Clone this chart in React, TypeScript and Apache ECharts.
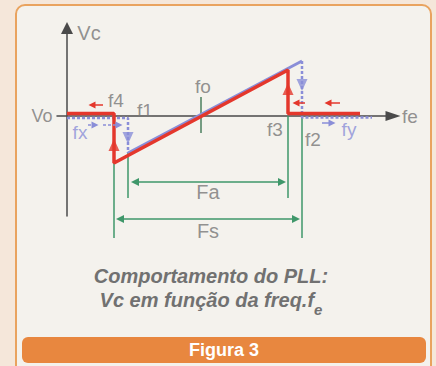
import { useEffect, useRef } from 'react';
import * as echarts from 'echarts';

const FONT = '"Liberation Sans", Arial, sans-serif';
const RED = '#e4372c';
const BLUE = '#8a8ed8';
const GREEN = '#3f976a';
const TEXT = '#777777';
const AXIS = '#4a4a4a';

// frequency (x): 0 = Vc axis ; voltage (y): 0 = Vo level
const redPath = [[0, 2.5], [47, 2.5], [47, -47], [221, 46], [221, 2.5], [293, 2.5]];
const blueLeft = [[0, -2], [61, -2], [61, -37]];
const blueRamp = [[61, -37], [235, 55]];
const blueRight = [[235, 55], [235, -1.5], [305, -1.5]];
const greenX = [47, 61, 221, 235];
const greenTop = [-47, -37, 0, 0];
const greenBottom = [-122, -82, -82, -122];
const foTick = [[134, 19], [134, -17]];
const upArrows = [[47, -29], [221, 27]];
const downArrows = [[61, -22], [235, 31]];
const redFlows = [[[36, 11], [25, 11]], [[238, 13], [229, 13]], [[273, 13], [261, 13]]];
const blueDashFlows = [[[21, -9], [28, -9]], [[36, -9], [52, -9]]];
const blueFlows = [[[255, -7], [265, -7]]];
const dimFrom = [68, 53];
const dimTo = [215, 229];
const dimLevel = [-66, -103];
const labelNames = ['Vc', 'fe', 'Vo', 'fo', 'f4', 'f1', 'fx', 'f3', 'f2', 'fy', 'Fa', 'Fs'];
const labelX = [22, 343, -25, 136, 49, 78, 13, 208, 246, 282, 141, 141];
const labelY = [83, 0, 0, 30, 16, 6, -16, -13, -23, -13, -76, -115];
const labelSize = [20, 19, 18, 19, 19, 19, 19, 19, 19, 19, 20, 20];
const labelColor = [TEXT, TEXT, TEXT, TEXT, TEXT, TEXT, BLUE, TEXT, TEXT, BLUE, TEXT, TEXT];

export default function App() {
  const ref = useRef<HTMLDivElement>(null);
  useEffect(() => {
    document.body.style.margin = '0';
    const chart = echarts.init(ref.current!, null, { renderer: 'svg' });
    const seg = (pairs: number[][][]) => pairs.map((c) => ({ coords: c }));
    chart.setOption({
      animation: false,
      backgroundColor: '#f5e7da',
      grid: { left: 57, right: 43, top: 28, bottom: 150 },
      xAxis: {
        type: 'value', min: -10, max: 326,
        axisLine: { show: true, onZero: true, symbol: ['none', 'triangle'], symbolSize: [10, 15], lineStyle: { color: AXIS, width: 1.5 } },
        axisTick: { show: false }, axisLabel: { show: false }, splitLine: { show: false },
      },
      yAxis: {
        type: 'value', min: -100, max: 88,
        axisLine: { show: true, onZero: true, symbol: ['none', 'triangle'], symbolSize: [12, 12], lineStyle: { color: AXIS, width: 1.5 } },
        axisTick: { show: false }, axisLabel: { show: false }, splitLine: { show: false },
      },
      graphic: [
        { type: 'rect', z: -100, shape: { x: 16, y: 5, width: 415, height: 380, r: 9 }, style: { fill: '#f4f2ed', stroke: '#e9a35f', lineWidth: 2 } },
        { type: 'rect', z: -90, shape: { x: 22, y: 337, width: 404, height: 26, r: 6 }, style: { fill: '#e8873f' } },
        { type: 'text', z: 10, x: 224, y: 350, style: { text: 'Figura 3', font: 'bold 18px ' + FONT, fill: '#ffffff', align: 'center', verticalAlign: 'middle' } },
        { type: 'text', z: 10, x: 211, y: 276, style: { text: 'Comportamento do PLL:', font: 'italic bold 20px ' + FONT, fill: '#717171', align: 'center', verticalAlign: 'middle' } },
        {
          type: 'text', z: 10, x: 211, y: 300,
          style: {
            text: 'Vc em função da freq.f{sub|e}', font: 'italic bold 20px ' + FONT, fill: '#717171', align: 'center', verticalAlign: 'middle', lineHeight: 24,
            rich: { sub: { font: 'italic bold 15px ' + FONT, fill: '#717171', lineHeight: 24, padding: [18, 0, 0, 0] } },
          },
        },
      ],
      series: [
        { type: 'line', data: blueRamp, symbol: 'none', z: 3, lineStyle: { color: BLUE, width: 3 } },
        { type: 'line', data: blueLeft, symbol: 'none', z: 3, lineStyle: { color: BLUE, width: 2.5, type: [3, 2] } },
        { type: 'line', data: blueRight, symbol: 'none', z: 3, lineStyle: { color: BLUE, width: 2.5, type: [3, 2] } },
        { type: 'line', data: redPath, symbol: 'none', z: 4, lineStyle: { color: RED, width: 3.5 } },
        {
          type: 'lines', coordinateSystem: 'cartesian2d', clip: false, z: 2,
          data: greenX.map((x, i) => ({ coords: [[x, greenTop[i]], [x, greenBottom[i]]] })),
          lineStyle: { color: GREEN, width: 1.5, opacity: 1 },
        },
        { type: 'lines', coordinateSystem: 'cartesian2d', z: 2, data: seg([foTick]), lineStyle: { color: '#4b7f5e', width: 1.5, opacity: 1 } },
        {
          type: 'lines', coordinateSystem: 'cartesian2d', clip: false, z: 2,
          symbol: ['triangle', 'triangle'], symbolSize: 8,
          data: dimFrom.map((x, i) => ({ coords: [[x, dimLevel[i]], [dimTo[i], dimLevel[i]]] })),
          lineStyle: { color: GREEN, width: 1.5, opacity: 1 },
        },
        { type: 'lines', coordinateSystem: 'cartesian2d', z: 5, symbol: ['none', 'triangle'], symbolSize: 7, data: seg(redFlows), lineStyle: { color: RED, width: 1.5, opacity: 1 } },
        { type: 'lines', coordinateSystem: 'cartesian2d', z: 5, symbol: ['none', 'triangle'], symbolSize: 7, data: seg(blueDashFlows), lineStyle: { color: BLUE, width: 1.5, type: [3, 2], opacity: 1 } },
        { type: 'lines', coordinateSystem: 'cartesian2d', z: 5, symbol: ['none', 'triangle'], symbolSize: 7, data: seg(blueFlows), lineStyle: { color: BLUE, width: 1.5, opacity: 1 } },
        { type: 'scatter', z: 6, symbol: 'triangle', symbolSize: [11, 12], itemStyle: { color: RED }, data: upArrows },
        { type: 'scatter', z: 6, symbol: 'triangle', symbolRotate: 180, symbolSize: [11, 12], itemStyle: { color: BLUE }, data: downArrows },
        {
          type: 'scatter', z: 7, clip: false, symbolSize: 1, itemStyle: { color: 'rgba(0,0,0,0)' },
          data: labelNames.map((n, i) => ({
            name: n, value: [labelX[i], labelY[i]],
            label: { show: true, position: 'inside', formatter: '{b}', fontSize: labelSize[i], color: labelColor[i], fontFamily: FONT },
          })),
        },
      ],
    });
    return () => chart.dispose();
  }, []);
  return <div ref={ref} style={{ width: 436, height: 366 }} />;
}
